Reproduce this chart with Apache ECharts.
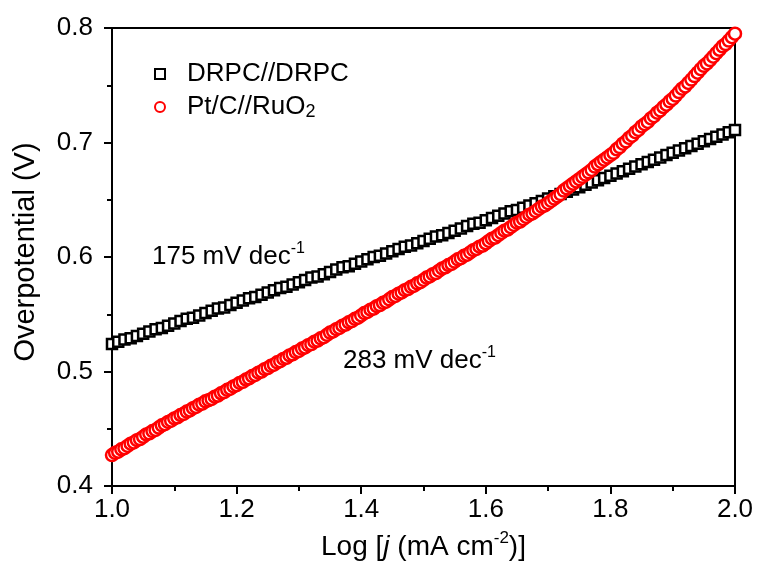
<!DOCTYPE html>
<html>
<head>
<meta charset="utf-8">
<script src="https://cdn.jsdelivr.net/npm/echarts@6/dist/echarts.min.js"></script>
<style>
  html, body { margin: 0; padding: 0; background: #fff; }
  #chart { width: 758px; height: 569px; }
</style>
</head>
<body>
<div id="chart"></div>
<script>
// sampling of log j (x) for each curve
var drpcStart = 1.0, drpcStep = 0.01
var ptcStart = 1.0, ptcStep = 0.005

// overpotential (V)
var drpcValues = [
  0.524, 0.526, 0.528, 0.529, 0.531, 0.533, 0.535, 0.537, 0.538, 0.540,
  0.542, 0.544, 0.546, 0.547, 0.549, 0.551, 0.553, 0.555, 0.556, 0.558,
  0.560, 0.562, 0.564, 0.565, 0.567, 0.569, 0.571, 0.573, 0.574, 0.576,
  0.578, 0.580, 0.582, 0.583, 0.585, 0.587, 0.589, 0.591, 0.592, 0.594,
  0.596, 0.598, 0.600, 0.601, 0.603, 0.605, 0.607, 0.609, 0.610, 0.612,
  0.614, 0.616, 0.618, 0.619, 0.621, 0.623, 0.625, 0.627, 0.629, 0.630,
  0.632, 0.634, 0.636, 0.638, 0.640, 0.641, 0.643, 0.645, 0.647, 0.649,
  0.651, 0.653, 0.655, 0.657, 0.659, 0.661, 0.663, 0.665, 0.667, 0.669,
  0.671, 0.673, 0.675, 0.677, 0.679, 0.681, 0.683, 0.685, 0.687, 0.689,
  0.691, 0.693, 0.695, 0.697, 0.699, 0.701, 0.703, 0.705, 0.707, 0.709,
  0.711
]
var ptcValues = [
  0.427, 0.429, 0.430, 0.432, 0.433, 0.435, 0.437, 0.438, 0.440, 0.441,
  0.443, 0.445, 0.446, 0.448, 0.449, 0.451, 0.453, 0.454, 0.456, 0.457,
  0.459, 0.460, 0.462, 0.463, 0.465, 0.466, 0.468, 0.469, 0.471, 0.472,
  0.474, 0.475, 0.476, 0.478, 0.479, 0.481, 0.482, 0.484, 0.485, 0.487,
  0.488, 0.490, 0.491, 0.493, 0.494, 0.496, 0.497, 0.499, 0.500, 0.502,
  0.503, 0.505, 0.506, 0.508, 0.509, 0.511, 0.512, 0.514, 0.515, 0.517,
  0.518, 0.520, 0.521, 0.523, 0.524, 0.526, 0.527, 0.529, 0.530, 0.532,
  0.534, 0.535, 0.537, 0.538, 0.540, 0.541, 0.543, 0.544, 0.546, 0.547,
  0.549, 0.551, 0.552, 0.554, 0.555, 0.557, 0.558, 0.560, 0.561, 0.563,
  0.565, 0.566, 0.568, 0.569, 0.571, 0.572, 0.574, 0.575, 0.577, 0.578,
  0.580, 0.582, 0.583, 0.585, 0.586, 0.588, 0.590, 0.591, 0.593, 0.594,
  0.596, 0.598, 0.599, 0.601, 0.602, 0.604, 0.606, 0.607, 0.609, 0.610,
  0.612, 0.614, 0.616, 0.617, 0.619, 0.621, 0.623, 0.624, 0.626, 0.628,
  0.630, 0.631, 0.633, 0.635, 0.637, 0.638, 0.640, 0.642, 0.644, 0.645,
  0.647, 0.649, 0.651, 0.653, 0.655, 0.658, 0.660, 0.662, 0.664, 0.666,
  0.668, 0.670, 0.672, 0.674, 0.676, 0.679, 0.681, 0.683, 0.685, 0.687,
  0.689, 0.691, 0.694, 0.696, 0.699, 0.701, 0.704, 0.706, 0.709, 0.711,
  0.714, 0.716, 0.718, 0.721, 0.723, 0.726, 0.728, 0.731, 0.733, 0.736,
  0.738, 0.741, 0.744, 0.747, 0.749, 0.752, 0.755, 0.758, 0.761, 0.764,
  0.767, 0.769, 0.772, 0.775, 0.778, 0.781, 0.784, 0.786, 0.789, 0.792,
  0.795
]
var seriesNames = ['DRPC//DRPC', 'Pt/C//RuO2']
var slopeLabels = ['175 mV dec{sup|-1}', '283 mV dec{sup|-1}']

function toPairs (start, step, values) {
  return values.map(function (v, i) {
    return [+(start + i * step).toFixed(4), v]
  })
}

var font = 'Liberation Sans, Arial, sans-serif'
var chart = echarts.init(document.getElementById('chart'))
var option = {
  animation: false,
  backgroundColor: '#fff',
  textStyle: { fontFamily: font, color: '#000' },
  grid: {
    left: 112,
    right: 23,
    top: 28,
    bottom: 80,
    show: true,
    borderColor: '#000',
    borderWidth: 2
  },
  legend: {
    orient: 'vertical',
    left: 149,
    top: 55,
    itemWidth: 10,
    itemHeight: 10,
    itemGap: 5,
    selectedMode: false,
    formatter: function (name) {
      return name === 'Pt/C//RuO2' ? 'Pt/C//RuO{sub|2}' : name
    },
    textStyle: {
      fontFamily: font,
      fontSize: 26,
      color: '#000',
      lineHeight: 28,
      padding: [0, 0, 0, 17],
      rich: {
        sub: { fontFamily: font, fontSize: 18, verticalAlign: 'bottom', lineHeight: 24 }
      }
    }
  },
  xAxis: {
    type: 'value',
    min: 1.0,
    max: 2.0,
    interval: 0.2,
    name: 'Log [{i|j} (mA cm{sup|-2})]',
    nameLocation: 'middle',
    nameGap: 44,
    nameTextStyle: {
      fontFamily: font,
      fontSize: 28,
      color: '#000',
      lineHeight: 34,
      rich: {
        i: { fontFamily: font, fontSize: 28, fontStyle: 'italic', color: '#000' },
        sup: { fontFamily: font, fontSize: 17, verticalAlign: 'top', color: '#000' }
      }
    },
    axisLine: { lineStyle: { color: '#000', width: 2 } },
    axisTick: { inside: false, length: 8, lineStyle: { color: '#000', width: 2 } },
    minorTick: { show: true, splitNumber: 2, length: 5, lineStyle: { color: '#000', width: 2 } },
    splitLine: { show: false },
    axisLabel: {
      fontFamily: font,
      fontSize: 26,
      color: '#000',
      margin: 11,
      formatter: function (v) { return v.toFixed(1) }
    }
  },
  yAxis: {
    type: 'value',
    min: 0.4,
    max: 0.8,
    interval: 0.1,
    name: 'Overpotential (V)',
    nameLocation: 'middle',
    nameRotate: 90,
    nameGap: 72,
    nameTextStyle: { fontFamily: font, fontSize: 29, color: '#000', padding: [0, 0, 0, 10] },
    axisLine: { lineStyle: { color: '#000', width: 2 } },
    axisTick: { inside: false, length: 8, lineStyle: { color: '#000', width: 2 } },
    minorTick: { show: true, splitNumber: 2, length: 5, lineStyle: { color: '#000', width: 2 } },
    splitLine: { show: false },
    axisLabel: {
      fontFamily: font,
      fontSize: 26,
      color: '#000',
      margin: 19,
      formatter: function (v) { return v.toFixed(1) }
    }
  },
  graphic: [
    {
      type: 'text',
      left: 152,
      top: 241,
      style: {
        text: slopeLabels[0],
        font: '26px ' + font,
        fill: '#000',
        lineHeight: 31,
        rich: { sup: { fontFamily: font, fontSize: 16, verticalAlign: 'top', fill: '#000' } }
      }
    },
    {
      type: 'text',
      left: 343,
      top: 345,
      style: {
        text: slopeLabels[1],
        font: '26px ' + font,
        fill: '#000',
        lineHeight: 31,
        rich: { sup: { fontFamily: font, fontSize: 16, verticalAlign: 'top', fill: '#000' } }
      }
    }
  ],
  series: [
    {
      name: seriesNames[0],
      type: 'scatter',
      symbol: 'rect',
      symbolSize: 10,
      itemStyle: { color: '#fff', borderColor: '#000', borderWidth: 2.5, opacity: 1 },
      data: toPairs(drpcStart, drpcStep, drpcValues)
    },
    {
      name: seriesNames[1],
      type: 'scatter',
      symbol: 'circle',
      symbolSize: 12,
      itemStyle: { color: '#fff', borderColor: '#ff0000', borderWidth: 2.5, opacity: 1 },
      data: toPairs(ptcStart, ptcStep, ptcValues)
    }
  ]
}
chart.setOption(option)
</script>
</body>
</html>
